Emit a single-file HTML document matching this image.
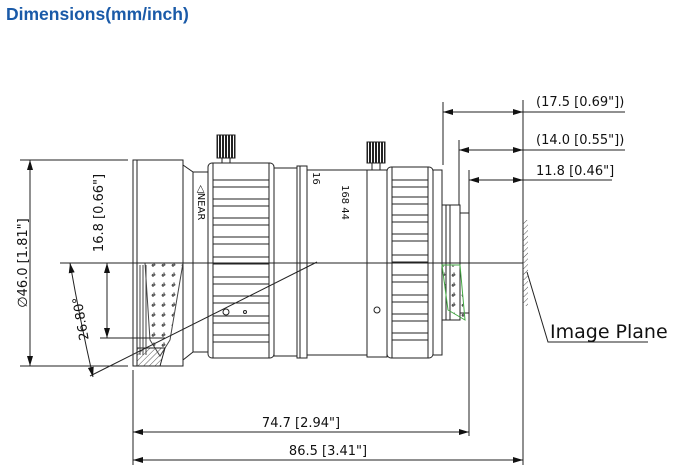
<!DOCTYPE html>
<html><head><style>
body{margin:0;background:#fff;width:684px;height:473px;overflow:hidden}
svg{display:block}
text{font-family:"DejaVu Sans","Liberation Sans",sans-serif;fill:#111}
</style></head><body>
<svg width="684" height="473" viewBox="0 0 684 473" xmlns="http://www.w3.org/2000/svg">
<defs>
<marker id="a" viewBox="0 0 10 6" refX="10" refY="3" markerWidth="10" markerHeight="6" orient="auto-start-reverse" markerUnits="userSpaceOnUse"><path d="M0,0L10,3L0,6z" fill="#111"/></marker>
<pattern id="h" width="4" height="4" patternUnits="userSpaceOnUse" patternTransform="rotate(45)"><line x1="0" y1="0" x2="0" y2="4" stroke="#555" stroke-width="1"/></pattern>
<pattern id="d" width="10" height="10" patternUnits="userSpaceOnUse"><text x="1" y="7" font-size="6" fill="#888">#</text></pattern>
<pattern id="k" width="3" height="4" patternUnits="userSpaceOnUse"><rect width="2" height="4" fill="#222"/></pattern>
</defs>
<text x="6" y="20" font-size="17.5" font-weight="bold" style="fill:#1a5aa8;font-family:'Liberation Sans',sans-serif">Dimensions(mm/inch)</text>
<g stroke="#222" stroke-width="1" fill="none">
<rect x="133" y="160" width="50" height="206" fill="#fff"/>
<line x1="137" y1="160" x2="137" y2="366"/>
<path d="M183,165 L193,172 L193,352 L183,360"/>
<path d="M193,172 L208,172 M193,352 L208,352"/>
<path d="M145,263 L183,263 L170,340 L160,356 L150,340 Z" fill="url(#d)" stroke="#444"/>
<path d="M137,348 L165,348 L160,366 L137,366Z" fill="url(#h)"/>
<g stroke="#444"><line x1="140" y1="265" x2="140" y2="355"/><line x1="143" y1="265" x2="143" y2="355"/><line x1="146" y1="265" x2="146" y2="355"/></g>
<rect x="217" y="135" width="18" height="23" fill="url(#k)"/>
<rect x="222" y="158" width="8" height="7"/>
<rect x="208" y="163" width="66" height="195" rx="4" fill="#fff"/>
<line x1="213" y1="163" x2="213" y2="358"/><line x1="269" y1="163" x2="269" y2="358"/>
<g>
<line x1="213" y1="180" x2="269" y2="180"/><line x1="213" y1="187" x2="269" y2="187"/>
<line x1="213" y1="199" x2="269" y2="199"/><line x1="213" y1="206" x2="269" y2="206"/>
<line x1="213" y1="218" x2="269" y2="218"/><line x1="213" y1="225" x2="269" y2="225"/>
<line x1="213" y1="237" x2="269" y2="237"/><line x1="213" y1="244" x2="269" y2="244"/>
<line x1="213" y1="257" x2="269" y2="257"/><line x1="213" y1="264" x2="269" y2="264"/>
<line x1="213" y1="277" x2="269" y2="277"/><line x1="213" y1="284" x2="269" y2="284"/>
<line x1="213" y1="296" x2="269" y2="296"/><line x1="213" y1="303" x2="269" y2="303"/>
<line x1="213" y1="316" x2="269" y2="316"/><line x1="213" y1="323" x2="269" y2="323"/>
<line x1="213" y1="335" x2="269" y2="335"/><line x1="213" y1="342" x2="269" y2="342"/>
</g>
<circle cx="226" cy="312" r="3"/><circle cx="245" cy="312" r="1.5"/>
<rect x="274" y="168" width="23" height="188"/>
<rect x="297" y="166" width="10" height="192"/>
<line x1="300" y1="166" x2="300" y2="358"/>
<rect x="307" y="170" width="60" height="185"/>
<rect x="367" y="142" width="18" height="21" fill="url(#k)"/>
<rect x="372" y="163" width="8" height="7"/>
<rect x="367" y="170" width="20" height="187"/>
<circle cx="377" cy="310" r="3"/>
<rect x="387" y="167" width="46" height="191" rx="4" fill="#fff"/>
<line x1="392" y1="167" x2="392" y2="358"/><line x1="428" y1="167" x2="428" y2="358"/>
<g>
<line x1="392" y1="180" x2="428" y2="180"/><line x1="392" y1="187" x2="428" y2="187"/>
<line x1="392" y1="197" x2="428" y2="197"/><line x1="392" y1="204" x2="428" y2="204"/>
<line x1="392" y1="215" x2="428" y2="215"/><line x1="392" y1="222" x2="428" y2="222"/>
<line x1="392" y1="234" x2="428" y2="234"/><line x1="392" y1="241" x2="428" y2="241"/>
<line x1="392" y1="255" x2="428" y2="255"/><line x1="392" y1="262" x2="428" y2="262"/>
<line x1="392" y1="275" x2="428" y2="275"/><line x1="392" y1="282" x2="428" y2="282"/>
<line x1="392" y1="295" x2="428" y2="295"/><line x1="392" y1="302" x2="428" y2="302"/>
<line x1="392" y1="314" x2="428" y2="314"/><line x1="392" y1="321" x2="428" y2="321"/>
<line x1="392" y1="333" x2="428" y2="333"/><line x1="392" y1="340" x2="428" y2="340"/>
</g>
<rect x="433" y="170" width="9" height="185"/>
<rect x="442" y="205" width="18" height="115"/>
<line x1="446" y1="205" x2="446" y2="320"/><line x1="450" y1="205" x2="450" y2="320"/>
<rect x="460" y="213" width="9" height="100"/>
<path d="M442,265 L460,265 L465,320 L448,310Z" fill="url(#d)" stroke="#4a4"/>
<line x1="523" y1="100" x2="523" y2="465"/>
<rect x="523" y="220" width="5" height="86" fill="url(#h)" stroke="none"/>
<line x1="60" y1="263" x2="523" y2="263"/>
<line x1="90" y1="376" x2="317" y2="262"/>
<path d="M70,263 Q80,320 93,377" marker-start="url(#a)" marker-end="url(#a)"/>
<line x1="20" y1="160" x2="128" y2="160"/><line x1="20" y1="366" x2="128" y2="366"/>
<line x1="30" y1="160" x2="30" y2="366" marker-start="url(#a)" marker-end="url(#a)"/>
<line x1="100" y1="338" x2="165" y2="338"/>
<line x1="107" y1="263" x2="107" y2="338" marker-start="url(#a)" marker-end="url(#a)"/>
<line x1="443" y1="102" x2="443" y2="165"/>
<line x1="459" y1="140" x2="459" y2="205"/>
<line x1="469" y1="170" x2="469" y2="436"/>
<line x1="443" y1="112" x2="523" y2="112" marker-start="url(#a)" marker-end="url(#a)"/>
<line x1="523" y1="112" x2="625" y2="112"/>
<line x1="459" y1="150" x2="523" y2="150" marker-start="url(#a)" marker-end="url(#a)"/>
<line x1="523" y1="150" x2="625" y2="150"/>
<line x1="469" y1="180" x2="523" y2="180" marker-start="url(#a)" marker-end="url(#a)"/>
<line x1="523" y1="180" x2="612" y2="180"/>
<path d="M527,272 L548,342 L648,342"/>
<line x1="133" y1="370" x2="133" y2="465"/>
<line x1="133" y1="432" x2="469" y2="432" marker-start="url(#a)" marker-end="url(#a)"/>
<line x1="133" y1="460" x2="523" y2="460" marker-start="url(#a)" marker-end="url(#a)"/>
</g>
<text x="536" y="106" font-size="13">(17.5 [0.69"])</text>
<text x="536" y="144" font-size="13">(14.0 [0.55"])</text>
<text x="536" y="175" font-size="13">11.8 [0.46"]</text>
<text x="550" y="338" font-size="19">Image Plane</text>
<text x="301" y="427" font-size="13" text-anchor="middle">74.7 [2.94"]</text>
<text x="328" y="455" font-size="13" text-anchor="middle">86.5 [3.41"]</text>
<text transform="translate(27,263) rotate(-90)" font-size="13" text-anchor="middle">∅46.0 [1.81"]</text>
<text transform="translate(103,213) rotate(-90)" font-size="13" text-anchor="middle">16.8 [0.66"]</text>
<text transform="translate(85,318) rotate(-100)" font-size="13" text-anchor="middle">26.80°</text>
<text transform="translate(198,185) rotate(90)" font-size="10">◁NEAR</text>
<text transform="translate(313,172) rotate(90)" font-size="10">16</text>
<text transform="translate(342,185) rotate(90)" font-size="10">168 44</text>
</svg>
</body></html>
